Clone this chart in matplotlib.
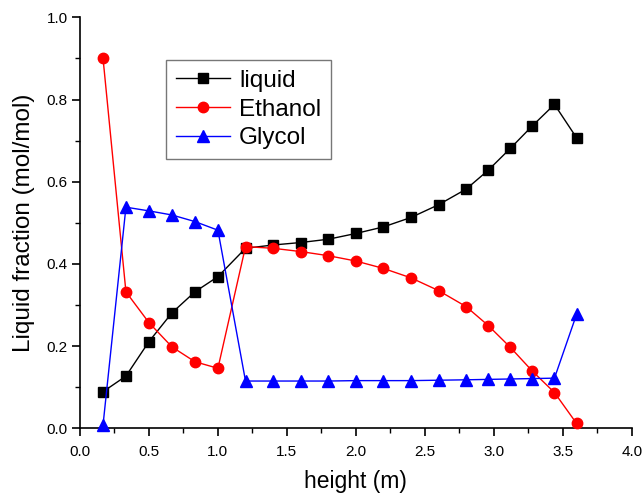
import matplotlib
matplotlib.use("Agg")
import matplotlib.pyplot as plt
from matplotlib.ticker import MultipleLocator, FormatStrFormatter

plt.rcParams['font.family'] = ['Liberation Sans', 'DejaVu Sans']

height = [0.167, 0.333, 0.5, 0.667, 0.833, 1.0, 1.2, 1.4, 1.6, 1.8, 2.0,
          2.2, 2.4, 2.6, 2.8, 2.96, 3.12, 3.28, 3.44, 3.6]
liquid = [0.089, 0.127, 0.211, 0.281, 0.332, 0.369, 0.438, 0.446, 0.452, 0.460,
          0.474, 0.490, 0.513, 0.544, 0.582, 0.628, 0.681, 0.736, 0.788, 0.707]
ethanol = [0.900, 0.332, 0.257, 0.198, 0.162, 0.146, 0.442, 0.438, 0.430, 0.420,
           0.407, 0.389, 0.366, 0.335, 0.296, 0.250, 0.197, 0.139, 0.087, 0.012]
glycol = [0.008, 0.538, 0.529, 0.519, 0.503, 0.482, 0.115, 0.115, 0.115, 0.115,
          0.116, 0.116, 0.116, 0.117, 0.118, 0.119, 0.120, 0.121, 0.122, 0.277]

fig = plt.figure(figsize=(6.43, 4.95), dpi=100)
ax = fig.add_axes([80 / 643, 1 - 428.3 / 495, (631.7 - 80) / 643, (428.3 - 17.3) / 495])

ax.plot(height, liquid, color='black', lw=1.0, marker='s', ms=6.5, label='liquid', clip_on=False, zorder=3)
ax.plot(height, ethanol, color='red', lw=1.0, marker='o', ms=7.5, label='Ethanol', clip_on=False, zorder=3)
ax.plot(height, glycol, color='blue', lw=1.0, marker='^', ms=8, label='Glycol', clip_on=False, zorder=3)

ax.set_xlim(0, 4.0)
ax.set_ylim(0, 1.0)
ax.xaxis.set_major_locator(MultipleLocator(0.5))
ax.xaxis.set_minor_locator(MultipleLocator(0.25))
ax.yaxis.set_major_locator(MultipleLocator(0.2))
ax.yaxis.set_minor_locator(MultipleLocator(0.1))
ax.xaxis.set_major_formatter(FormatStrFormatter('%.1f'))
ax.yaxis.set_major_formatter(FormatStrFormatter('%.1f'))

for side in ('top', 'right'):
    ax.spines[side].set_visible(False)
for side in ('left', 'bottom'):
    ax.spines[side].set_linewidth(1.2)
ax.tick_params(which='major', direction='out', length=6, width=1.2, labelsize=11)
ax.tick_params(axis='x', which='major', pad=6)
ax.tick_params(axis='y', which='major', pad=3)
ax.tick_params(which='minor', direction='out', length=3.5, width=1.0)

ax.set_xlabel('height (m)', fontsize=16.5, labelpad=8)
ax.set_ylabel('Liquid fraction (mol/mol)', fontsize=17.5, labelpad=8)

leg = ax.legend(loc='upper left', bbox_to_anchor=((166 - 80) / 551.7, (428.3 - 60) / 411),
                fontsize=17.5, frameon=True, fancybox=False, handlelength=2.25,
                borderpad=0.4, labelspacing=0.28, handletextpad=0.35, borderaxespad=0)
leg.get_frame().set_edgecolor('#555555')
leg.get_frame().set_linewidth(1.0)

fig.savefig('out.png', dpi=100)
